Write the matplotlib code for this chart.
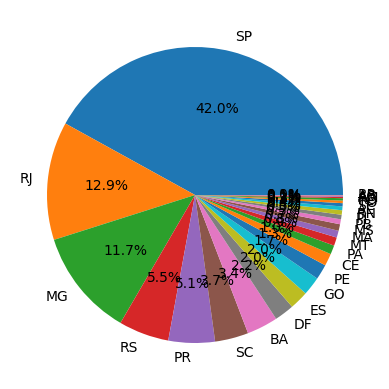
import matplotlib
matplotlib.use("Agg")
import matplotlib.pyplot as plt

# customer counts per state
states = ['SP', 'RJ', 'MG', 'RS', 'PR', 'SC', 'BA', 'DF', 'ES', 'GO', 'PE', 'CE', 'PA', 'MT',
          'MA', 'MS', 'PB', 'PI', 'RN', 'AL', 'SE', 'TO', 'RO', 'AM', 'AC', 'AP', 'RR']
counts = [41746, 12852, 11635, 5466, 5045, 3637, 3380, 2140, 2033, 2020, 1652, 1336, 975, 907,
          747, 715, 536, 495, 485, 413, 350, 280, 253, 148, 81, 68, 46]

fig = plt.figure(figsize=(3.89, 3.89), dpi=100)
ax = fig.add_axes([10 / 389, 9 / 389, 370 / 389, 370 / 389])
ax.pie(counts, labels=states, autopct='%1.1f%%')
fig.savefig('out.png', dpi=100)
